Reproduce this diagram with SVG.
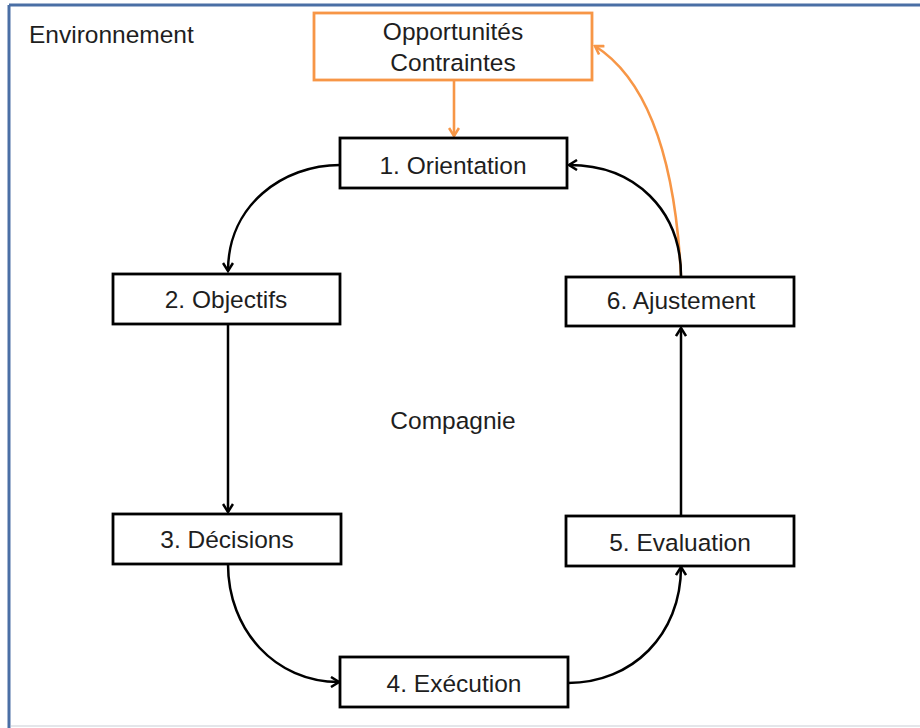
<svg xmlns="http://www.w3.org/2000/svg" width="920" height="728" viewBox="0 0 920 728">
  <style>
    .box { fill: #ffffff; stroke: #000000; stroke-width: 2.8; }
    .obox { fill: #ffffff; stroke: #f79646; stroke-width: 2.8; }
    .lbl { font-family: "Liberation Sans", Arial, sans-serif; font-size: 24.5px; fill: #1e1e1e; text-anchor: middle; }
    .conn { fill: none; stroke: #000000; stroke-width: 2.5; }
    .oconn { fill: none; stroke: #f79646; stroke-width: 2.6; }
  </style>
  <defs>
    <marker id="ah" viewBox="0 0 12 12" refX="10" refY="6" markerWidth="12" markerHeight="12" markerUnits="userSpaceOnUse" orient="auto">
      <path d="M2,1 L10,6 L2,11" fill="none" stroke="#000000" stroke-width="2.5"/>
    </marker>
    <marker id="aho" viewBox="0 0 12 12" refX="10" refY="6" markerWidth="12" markerHeight="12" markerUnits="userSpaceOnUse" orient="auto">
      <path d="M2,1 L10,6 L2,11" fill="none" stroke="#f79646" stroke-width="2.6"/>
    </marker>
  </defs>

  <rect x="0" y="0" width="920" height="728" fill="#ffffff"/>
  <g id="frame">
    <line x1="9" y1="5" x2="920" y2="5" stroke="#4a6fa5" stroke-width="3"/>
    <line x1="9" y1="5" x2="9" y2="728" stroke="#4a6fa5" stroke-width="3"/>
    <line x1="11" y1="726" x2="920" y2="726" stroke="#e4e6ea" stroke-width="2"/>
    <text class="lbl" x="29" y="43" style="text-anchor:start">Environnement</text>
    <text class="lbl" x="453" y="429">Compagnie</text>
  </g>

  <g id="connectors">
    <path class="oconn" d="M454,81 L454,136" marker-end="url(#aho)"/>
    <path class="oconn" d="M681,276 Q672,95 595,46" marker-end="url(#aho)"/>
    <path class="conn" d="M340,165 C283,165 228,205 228,271" marker-end="url(#ah)"/>
    <path class="conn" d="M228,325 L228,512" marker-end="url(#ah)"/>
    <path class="conn" d="M228,564 C228,630 275,682 339,682" marker-end="url(#ah)"/>
    <path class="conn" d="M568,683 C632,683 681,635 681,567" marker-end="url(#ah)"/>
    <path class="conn" d="M681,515 L681,328" marker-end="url(#ah)"/>
    <path class="conn" d="M681,276 C681,210 635,165 569,165" marker-end="url(#ah)"/>
  </g>

  <g id="opportunites">
    <rect class="obox" x="314" y="13" width="278" height="67"/>
    <text class="lbl" x="453" y="40">Opportunités</text>
    <text class="lbl" x="453" y="71">Contraintes</text>
  </g>
  <g id="n1">
    <rect class="box" x="340" y="138" width="227" height="50"/>
    <text class="lbl" x="453" y="174">1. Orientation</text>
  </g>
  <g id="n2">
    <rect class="box" x="113" y="274" width="227" height="50"/>
    <text class="lbl" x="226" y="308">2. Objectifs</text>
  </g>
  <g id="n3">
    <rect class="box" x="113" y="514" width="228" height="50"/>
    <text class="lbl" x="227" y="548">3. Décisions</text>
  </g>
  <g id="n4">
    <rect class="box" x="340" y="657" width="228" height="50"/>
    <text class="lbl" x="454" y="692">4. Exécution</text>
  </g>
  <g id="n5">
    <rect class="box" x="566" y="516" width="228" height="50"/>
    <text class="lbl" x="680" y="551">5. Evaluation</text>
  </g>
  <g id="n6">
    <rect class="box" x="566" y="277" width="228" height="49"/>
    <text class="lbl" x="681" y="309">6. Ajustement</text>
  </g>
</svg>
